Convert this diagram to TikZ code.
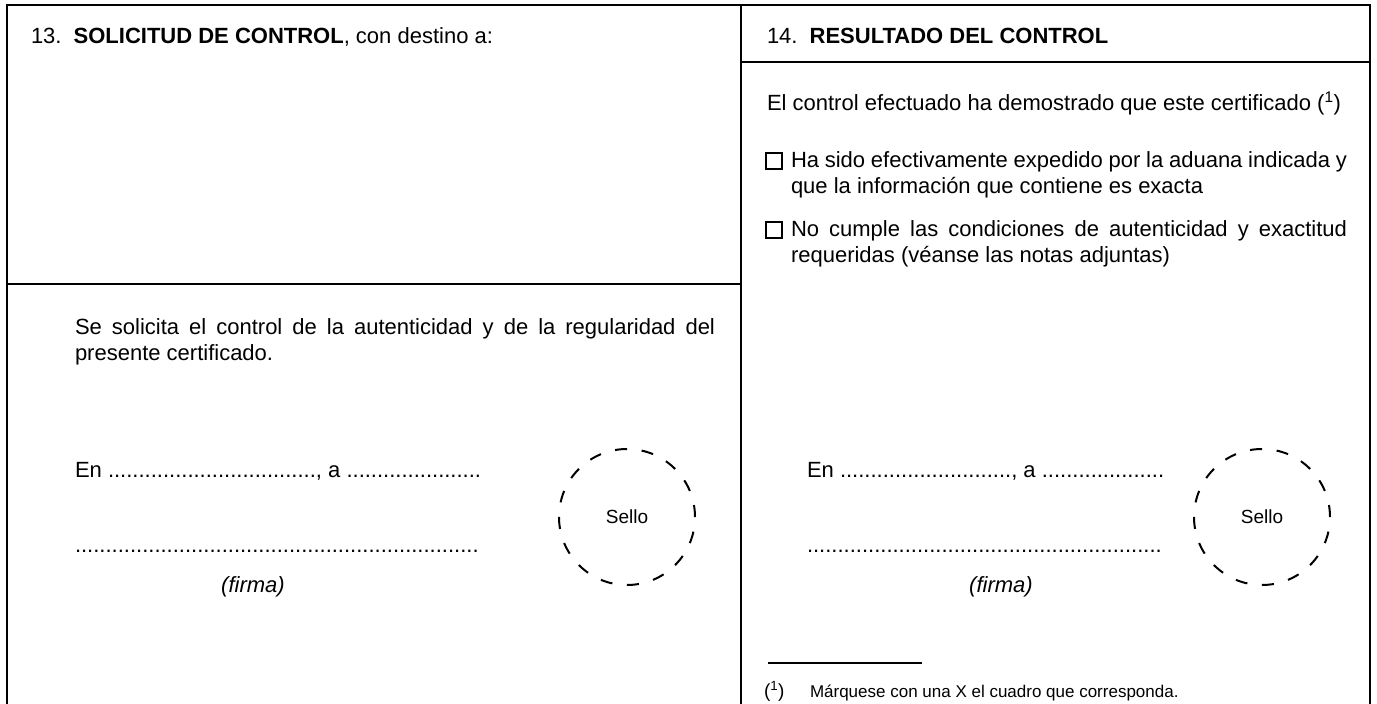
\documentclass[tikz,border=0pt]{standalone}
\usepackage{fontspec}
\setmainfont{Liberation Sans}
\newcommand\ndots[1]{\foreach\k in {1,...,#1}{.}}
\hyphenpenalty=10000\relax
\exhyphenpenalty=10000\relax
\tolerance=9999\relax
\begin{document}
\begin{tikzpicture}[x=1pt,y=-1pt,
  every node/.style={inner sep=0pt,outer sep=0pt},
  frame/.style={line width=2.2pt,line join=miter},
  body/.style={font=\fontsize{22}{26}\selectfont,anchor=base west},
  small/.style={font=\fontsize{17}{20}\selectfont,anchor=base west},
  para/.style={font=\fontsize{22}{26}\selectfont,align=justify,anchor=north west},
  firma/.style={font=\fontsize{22}{26}\selectfont\itshape,anchor=base},
  sello/.style={circle,draw,line width=2pt,dash pattern=on 12pt off 14.7pt,minimum size=136pt,font=\fontsize{19}{22}\selectfont},
  chk/.style={draw,line width=2pt,minimum size=16pt}]
\useasboundingbox (0,0) rectangle (1377,704);
% frame
\draw[frame] (7,704) -- (7,5) -- (1370,5) -- (1370,704);
\draw[frame] (741,5) -- (741,704);
\draw[frame] (7,284) -- (741,284);
\draw[frame] (741,62) -- (1370,62);
% box 13
\node[body] (h13) at (31,43) {13.\hspace{0.55em}\textbf{SOLICITUD DE CONTROL}, con destino a:};
\node[para,text width=640pt] (req) at (75,319) {Se solicita el control de la autenticidad y de la regularidad del presente certificado.};
\node[body] (enL) at (75,477) {En \ndots{34}, a \ndots{22}};
\node[body] (dotL) at (75,552) {\ndots{66}};
\node[firma] (firL) at (253,592) {(firma)};
\node[sello] (selL) at (627,517) {Sello};
% box 14
\node[body] (h14) at (767,43) {14.\hspace{0.55em}\textbf{RESULTADO DEL CONTROL}};
\node[body] (intro) at (767,110) {El control efectuado ha demostrado que este certificado (\textsuperscript{1})};
\node[chk] (c1) at (774,161) {};
\node[para,text width=556pt] (t1) at (791,152) {Ha sido efectivamente expedido por la aduana indicada y que la información que contiene es exacta};
\node[chk] (c2) at (774,230) {};
\node[para,text width=556pt] (t2) at (791,221) {No cumple las condiciones de autenticidad y exactitud requeridas (véanse las notas adjuntas)};
\node[body] (enR) at (807,477) {En \ndots{28}, a \ndots{20}};
\node[body] (dotR) at (807,552) {\ndots{58}};
\node[firma] (firR) at (1001,592) {(firma)};
\node[sello] (selR) at (1262,517) {Sello};
% footnote
\coordinate (fa) at (768,663);
\coordinate (fb) at (922,663);
\draw[line width=1.8pt] (fa) -- (fb);
\node[small,font=\fontsize{19}{22}\selectfont] (fn1) at (764,697) {(\textsuperscript{1})};
\node[small] (fn2) at (810,697) {Márquese con una X el cuadro que corresponda.};
\end{tikzpicture}
\end{document}
